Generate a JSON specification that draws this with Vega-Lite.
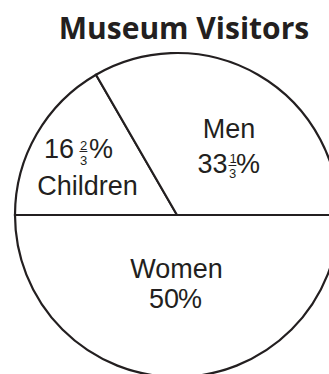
{
  "$schema": "https://vega.github.io/schema/vega-lite/v6.json",
  "autosize": {"type": "none"},
  "padding": {"left": 25, "top": 56, "right": 0, "bottom": 0},
  "width": 304,
  "height": 318,
  "background": "white",
  "title": {"text": "Museum Visitors", "font": "Open Sans", "fontSize": 30, "fontWeight": "bold", "color": "#231f20", "anchor": "middle", "frame": "group", "baseline": "alphabetic", "offset": 14, "dx": 7, "dy": 34},
  "data": {"values": [
    {"category": "Children", "value": 16.667, "label": "Children", "whole": "16", "num": "2", "den": "3"},
    {"category": "Men", "value": 33.333, "label": "Men", "whole": "33", "num": "1", "den": "3"},
    {"category": "Women", "value": 50, "label": "Women", "whole": "50", "num": "", "den": ""}
  ]},
  "encoding": {
    "theta": {"field": "value", "type": "quantitative", "stack": true, "scale": {"range": [-1.5708, 4.7124]}},
    "order": {"field": "category", "type": "nominal", "sort": "ascending"}
  },
  "layer": [
    {"mark": {"type": "arc", "outerRadius": 162, "fill": "white", "stroke": "#231f20", "strokeWidth": 2.2}},
    {"mark": {"type": "text", "radius": 90, "dx": 7, "dy": 1, "align": "center", "fontSize": 27},
     "encoding": {"text": {"condition": {"test": "datum.category === 'Men'", "field": "label"}, "value": ""}}},
    {"mark": {"type": "text", "radius": 90, "dx": 5.5, "dy": 36, "align": "right", "fontSize": 27},
     "encoding": {"text": {"condition": {"test": "datum.category === 'Men'", "field": "whole"}, "value": ""}}},
    {"mark": {"type": "text", "radius": 90, "dx": 11, "dy": 26, "align": "center", "fontSize": 13},
     "encoding": {"text": {"condition": {"test": "datum.category === 'Men'", "field": "num"}, "value": ""}}},
    {"mark": {"type": "text", "radius": 90, "dx": 10.5, "dy": 32, "align": "center", "fontSize": 14},
     "encoding": {"text": {"condition": {"test": "datum.category === 'Men'", "value": "–"}, "value": ""}}},
    {"mark": {"type": "text", "radius": 90, "dx": 10.5, "dy": 41, "align": "center", "fontSize": 13},
     "encoding": {"text": {"condition": {"test": "datum.category === 'Men'", "field": "den"}, "value": ""}}},
    {"mark": {"type": "text", "radius": 90, "dx": 14, "dy": 36, "align": "left", "fontSize": 27},
     "encoding": {"text": {"condition": {"test": "datum.category === 'Men'", "value": "%"}, "value": ""}}},
    {"mark": {"type": "text", "radius": 100, "dx": -16.4, "dy": -7, "align": "right", "fontSize": 27},
     "encoding": {"text": {"condition": {"test": "datum.category === 'Children'", "field": "whole"}, "value": ""}}},
    {"mark": {"type": "text", "radius": 100, "dx": -6.9, "dy": -15, "align": "center", "fontSize": 13},
     "encoding": {"text": {"condition": {"test": "datum.category === 'Children'", "field": "num"}, "value": ""}}},
    {"mark": {"type": "text", "radius": 100, "dx": -6.9, "dy": -10, "align": "center", "fontSize": 14},
     "encoding": {"text": {"condition": {"test": "datum.category === 'Children'", "value": "–"}, "value": ""}}},
    {"mark": {"type": "text", "radius": 100, "dx": -6.9, "dy": 0, "align": "center", "fontSize": 13},
     "encoding": {"text": {"condition": {"test": "datum.category === 'Children'", "field": "den"}, "value": ""}}},
    {"mark": {"type": "text", "radius": 100, "dx": -1.5, "dy": -7, "align": "left", "fontSize": 27},
     "encoding": {"text": {"condition": {"test": "datum.category === 'Children'", "value": "%"}, "value": ""}}},
    {"mark": {"type": "text", "radius": 100, "dx": -2.9, "dy": 30, "align": "center", "fontSize": 27},
     "encoding": {"text": {"condition": {"test": "datum.category === 'Children'", "field": "label"}, "value": ""}}},
    {"mark": {"type": "text", "radius": 70, "dx": -0.5, "dy": -7, "align": "center", "fontSize": 27},
     "encoding": {"text": {"condition": {"test": "datum.category === 'Women'", "field": "label"}, "value": ""}}},
    {"mark": {"type": "text", "radius": 70, "dx": 2, "dy": 23, "align": "right", "fontSize": 27},
     "encoding": {"text": {"condition": {"test": "datum.category === 'Women'", "field": "whole"}, "value": ""}}},
    {"mark": {"type": "text", "radius": 70, "dx": 1, "dy": 23, "align": "left", "fontSize": 27},
     "encoding": {"text": {"condition": {"test": "datum.category === 'Women'", "value": "%"}, "value": ""}}}
  ],
  "config": {
    "view": {"stroke": null},
    "text": {"font": "Liberation Sans", "color": "#231f20", "baseline": "alphabetic"}
  }
}
